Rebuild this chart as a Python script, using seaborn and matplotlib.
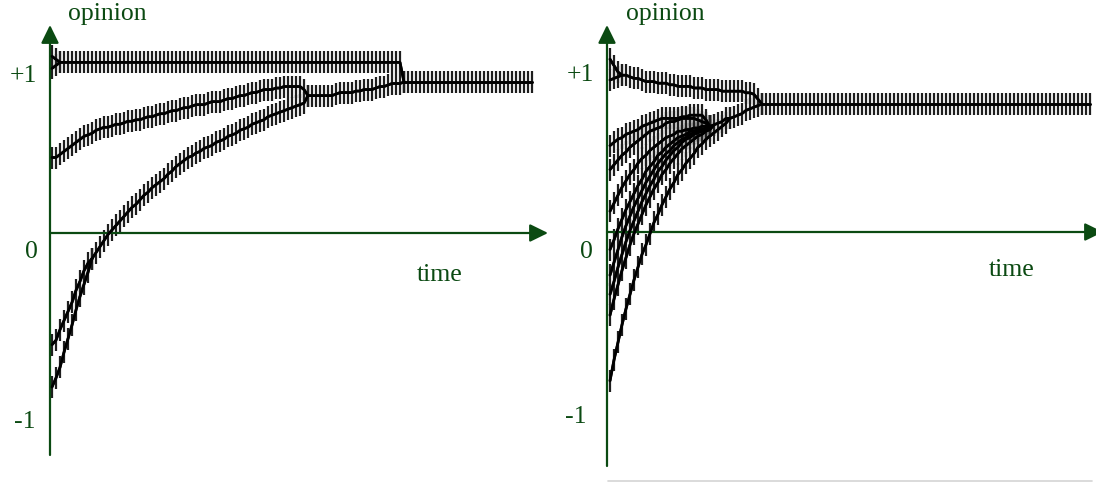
"""
Two panels of opinion trajectories over time: each agent's opinion is a
black line with a vertical tick at every time step, on hand-drawn arrow axes.
"""

import matplotlib.pyplot as plt
import numpy as np
import seaborn as sns
from matplotlib.lines import Line2D

# ---- data: opinion per time step (one tick per step) ----
# left panel
left_top_a = [1.17, 1.15] + [1.13] * 86 + [1.00]            # t = 0..88
left_top_b = [1.09, 1.11, 1.13]                              # t = 0..2
left_mid = [0.50, 0.50, 0.52, 0.54, 0.56, 0.58, 0.60, 0.62, 0.64, 0.65,
            0.66, 0.68, 0.69, 0.70, 0.70, 0.71, 0.72, 0.72, 0.73, 0.74,
            0.74, 0.75, 0.75, 0.76, 0.77, 0.77, 0.78, 0.79, 0.79, 0.80,
            0.81, 0.81, 0.82, 0.83, 0.83, 0.84, 0.85, 0.85, 0.85, 0.86,
            0.87, 0.87, 0.87, 0.88, 0.89, 0.89, 0.90, 0.91, 0.91, 0.92,
            0.93, 0.93, 0.94, 0.95, 0.95, 0.95, 0.96, 0.96, 0.97, 0.97,
            0.97, 0.97, 0.97, 0.95, 0.91]                    # t = 0..64
left_low_a = [-0.74, -0.71, -0.64, -0.58, -0.52, -0.46, -0.38, -0.32,
              -0.25, -0.20, -0.17]                           # t = 0..10
left_low_b = [-1.02, -0.96, -0.89, -0.79, -0.70, -0.61, -0.51, -0.42,
              -0.34, -0.26, -0.17]                           # t = 0..10
left_low = [-0.17, -0.13, -0.09, -0.05, -0.01, 0.02, 0.05, 0.08, 0.11, 0.14,
            0.17, 0.19, 0.22, 0.25, 0.27, 0.30, 0.32, 0.34, 0.36, 0.39,
            0.41, 0.44, 0.46, 0.48, 0.50, 0.51, 0.53, 0.54, 0.56, 0.57,
            0.58, 0.60, 0.61, 0.62, 0.64, 0.65, 0.66, 0.68, 0.69, 0.70,
            0.72, 0.73, 0.74, 0.75, 0.77, 0.78, 0.79, 0.80, 0.81, 0.82,
            0.83, 0.84, 0.85, 0.86, 0.91]                    # t = 10..64
left_joined = [0.91, 0.91, 0.91, 0.91, 0.91, 0.91, 0.91, 0.92, 0.93, 0.93,
               0.93, 0.93, 0.94, 0.94, 0.95, 0.95, 0.95, 0.96, 0.97, 0.97,
               0.98, 0.99, 0.99, 0.99, 1.00]                 # t = 64..88
left_final = [1.00] * 33                                     # t = 88..120

# right panel
right_top_a = [1.08, 1.04, 1.00, 0.98, 0.98, 0.97, 0.96, 0.96, 0.95, 0.94,
               0.94, 0.94, 0.93, 0.93, 0.93, 0.92, 0.92, 0.91, 0.91, 0.91,
               0.91, 0.90, 0.90, 0.90, 0.89, 0.89, 0.89, 0.89, 0.88, 0.88,
               0.88, 0.88, 0.88, 0.88, 0.87, 0.87, 0.86, 0.83, 0.80]  # t = 0..38
right_top_b = [0.95, 0.96, 0.97, 0.98]                       # t = 0..3
right_a = [0.54, 0.56, 0.58, 0.59, 0.61, 0.62, 0.63, 0.64, 0.66, 0.67,
           0.68, 0.69, 0.70, 0.71, 0.71, 0.71, 0.71, 0.71, 0.72, 0.72,
           0.73, 0.73, 0.73, 0.73, 0.70, 0.66]               # t = 0..25
right_b = [0.39, 0.42, 0.45, 0.48, 0.50, 0.53, 0.55, 0.57, 0.59, 0.61,
           0.63, 0.64, 0.65, 0.66, 0.68, 0.69, 0.69, 0.70, 0.71, 0.71,
           0.71, 0.71, 0.70, 0.69, 0.68, 0.66]
right_c = [0.13, 0.18, 0.23, 0.28, 0.32, 0.36, 0.39, 0.43, 0.46, 0.48,
           0.51, 0.53, 0.55, 0.57, 0.59, 0.60, 0.61, 0.63, 0.63, 0.64,
           0.64, 0.65, 0.65, 0.66, 0.66, 0.66]
right_d = [-0.11, -0.05, 0.02, 0.08, 0.14, 0.19, 0.24, 0.29, 0.33, 0.38,
           0.41, 0.44, 0.48, 0.50, 0.53, 0.55, 0.57, 0.59, 0.60, 0.61,
           0.63, 0.63, 0.64, 0.64, 0.65, 0.66]
right_e = [-0.27, -0.19, -0.11, -0.03, 0.04, 0.10, 0.16, 0.21, 0.26, 0.31,
           0.35, 0.39, 0.43, 0.46, 0.49, 0.51, 0.54, 0.56, 0.58, 0.59,
           0.61, 0.62, 0.63, 0.64, 0.64, 0.66]
right_h = [-0.39, -0.31, -0.22, -0.14, -0.06, 0.01, 0.07, 0.13, 0.19, 0.24,
           0.29, 0.33, 0.38, 0.41, 0.45, 0.48, 0.51, 0.53, 0.56, 0.58,
           0.59, 0.61, 0.62, 0.63, 0.64, 0.66]
right_f = [-0.52, -0.42, -0.33, -0.24, -0.16, -0.08, -0.01, 0.05, 0.11, 0.17,
           0.22, 0.27, 0.31, 0.36, 0.39, 0.43, 0.46, 0.49, 0.52, 0.54,
           0.56, 0.58, 0.60, 0.61, 0.63, 0.64, 0.67]         # t = 0..26
right_g = [-0.93, -0.80, -0.69, -0.58, -0.48, -0.39, -0.30, -0.22, -0.14, -0.08,
           -0.01, 0.06, 0.11, 0.17, 0.22, 0.27, 0.31, 0.36, 0.39, 0.43,
           0.46, 0.49, 0.53, 0.55, 0.58, 0.60, 0.62, 0.64, 0.66, 0.68,
           0.71]                                             # t = 0..30
right_joined = [0.66, 0.67, 0.68, 0.69, 0.71, 0.71, 0.72, 0.73, 0.74, 0.76,
                0.77, 0.78, 0.79, 0.80]                      # t = 25..38
right_final = [0.80] * 83                                    # t = 38..120

left_segments = [(0, left_top_a), (0, left_top_b), (0, left_mid),
                 (0, left_low_a), (0, left_low_b), (10, left_low),
                 (64, left_joined), (88, left_final)]
right_segments = [(0, right_top_a), (0, right_top_b), (0, right_a),
                  (0, right_b), (0, right_c), (0, right_d), (0, right_e),
                  (0, right_h), (0, right_f), (0, right_g),
                  (25, right_joined), (38, right_final)]

y_labels = ["+1", "0", "-1"]
y_label = "opinion"
x_label = "time"

GREEN = "#0b4a12"
W, H = 1096, 483

sns.set_style("white")
plt.rcParams["font.family"] = ["Liberation Serif", "DejaVu Serif"]


def draw_segments(ax, segments):
    for start, values in segments:
        t = np.arange(start, start + len(values))
        # ticks first, then the line again on top of them
        sns.lineplot(x=t, y=values, ax=ax, color="black", lw=1.8,
                     marker="|", markersize=16, markeredgewidth=1.6,
                     markeredgecolor="#1e1e1e", errorbar=None, zorder=2)
        sns.lineplot(x=t, y=values, ax=ax, color="black", lw=2.0,
                     errorbar=None, zorder=3)


def draw_axes(ax, x0, y_bottom, y_top, x_tip):
    style = dict(arrowstyle="-|>,head_length=0.55,head_width=0.27",
                 mutation_scale=20, lw=1.6, color=GREEN,
                 shrinkA=0, shrinkB=0)
    ax.annotate("", xy=(x0, y_top), xytext=(x0, y_bottom),
                arrowprops=style, annotation_clip=False)
    ax.annotate("", xy=(x_tip, 0), xytext=(x0, 0),
                arrowprops=style, annotation_clip=False)


def label(x_px, y_px, s, ha="center"):
    fig.text(x_px / W, 1 - y_px / H, s, ha=ha, va="baseline",
             fontsize=18.5, color=GREEN)


fig = plt.figure(figsize=(W / 100, H / 100), dpi=100)

# left panel: t = (px - 52) / 4, opinion = (233 - px) / 151
ax_l = fig.add_axes([0, 0, 560 / W, 1])
ax_l.set_xlim(-13, 127)
ax_l.set_ylim(-250 / 151, 233 / 151)
ax_l.axis("off")
draw_axes(ax_l, -0.5, -222 / 151, 208 / 151, 124)
draw_segments(ax_l, left_segments)

# right panel: t = (px - 610) / 4, opinion = (232 - px) / 160
ax_r = fig.add_axes([560 / W, 0, 536 / W, 1])
ax_r.set_xlim(-12.5, 121.5)
ax_r.set_ylim(-251 / 160, 232 / 160)
ax_r.axis("off")
draw_axes(ax_r, -0.75, -234 / 160, 207 / 160, 123.25)
draw_segments(ax_r, right_segments)

# texts
label(107, 20, y_label)
label(23, 82, y_labels[0])
label(31, 258, y_labels[1])
label(25, 428, y_labels[2])
label(440, 281, x_label)

label(665, 20, y_label)
label(580, 81, y_labels[0])
label(586, 258, y_labels[1])
label(576, 423, y_labels[2])
label(1012, 276, x_label)

# faint rule along the bottom of the right panel
fig.add_artist(Line2D([608 / W, 1092 / W], [1 - 481 / H, 1 - 481 / H],
                      color="#d4d4d4", lw=1.2))

fig.savefig("out.png", dpi=100)
plt.close(fig)
